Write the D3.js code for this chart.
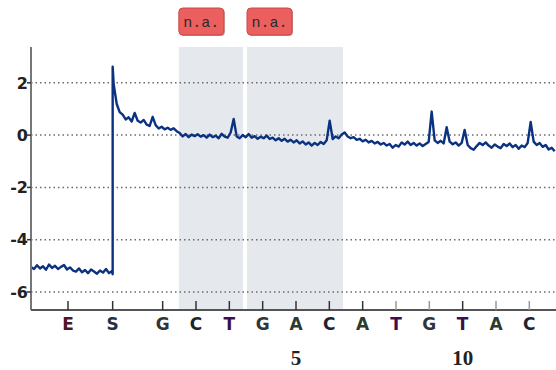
<!DOCTYPE html>
<html>
<head>
<meta charset="utf-8">
<script src="https://cdn.jsdelivr.net/npm/d3@7/dist/d3.min.js"></script>
<style>
  html, body { margin: 0; padding: 0; background: #fff; }
  svg { display: block; }
</style>
</head>
<body>
<svg id="chart" width="556" height="370"></svg>
<script>
// ---------------- data ----------------
const yTickValues = [2, 0, -2, -4, -6];
const yTickLabels = ["2", "0", "-2", "-4", "-6"];

const baseTickPos = [-1.84, -0.5, 1, 2, 3, 4, 5, 6, 7, 8, 9, 10, 11, 12];
const baseTickLabels = ["E", "S", "G", "C", "T", "G", "A", "C", "A", "T", "G", "T", "A", "C"];
const baseTickDark = [1, 1, 1, 1, 1, 1, 1, 1, 1, 0, 0, 1, 0, 0];

const positionNumbers = [5, 10];

const regionStart = [1.5, 3.5];
const regionEnd = [3.5, 6.5];
const regionLabels = ["n.a.", "n.a."];

// trace before the jump (regularly sampled)
const preStart = -2.95;
const preStep = 0.09;
const preValues = [
  -5.05, -5.12, -4.98, -5.10, -5.02, -5.15, -4.95, -5.08, -5.00, -5.12,
  -5.04, -4.97, -5.14, -5.06, -5.18, -5.22, -5.10, -5.25, -5.16, -5.28,
  -5.14, -5.22, -5.30, -5.18, -5.26, -5.12, -5.28, -5.20
];
// jump at S
const jumpPos = -0.5;
const jumpValues = [-5.32, -4.0, 2.62];
// trace after the jump (regularly sampled)
const postStart = -0.47;
const postStep = 0.09;
const postValues = [
  1.95, 1.20, 0.88, 0.78, 0.60, 0.68, 0.52, 0.85, 0.55, 0.48,
  0.58, 0.40, 0.35, 0.70, 0.38, 0.25, 0.32, 0.22, 0.28, 0.20,
  0.26, 0.15, 0.08, -0.05, 0.04, -0.08, 0.02, -0.04, 0.03, -0.06,
  0.00, -0.10, 0.02, -0.08, -0.02, -0.12, 0.05, -0.06, -0.10, 0.10,
  0.62, -0.05, -0.12, 0.00, -0.08, 0.04, -0.10, -0.04, -0.14, -0.06,
  -0.12, -0.02, -0.15, -0.10, -0.20, -0.12, -0.22, -0.14, -0.25, -0.18,
  -0.28, -0.20, -0.32, -0.24, -0.36, -0.28, -0.40, -0.30, -0.38, -0.26,
  -0.34, -0.20, 0.55, -0.15, -0.05, -0.12, 0.02, 0.10, -0.05, -0.12,
  -0.08, -0.18, -0.14, -0.24, -0.18, -0.28, -0.22, -0.32, -0.26, -0.36,
  -0.30, -0.40, -0.34, -0.48, -0.38, -0.44, -0.28, -0.36, -0.25, -0.38,
  -0.30, -0.40, -0.32, -0.42, -0.34, -0.26, 0.90, -0.20, -0.30, -0.22,
  -0.32, 0.30, -0.25, -0.35, -0.28, -0.40, -0.30, 0.20, -0.38, -0.50,
  -0.56, -0.42, -0.30, -0.38, -0.28, -0.40, -0.48, -0.36, -0.44, -0.50,
  -0.34, -0.42, -0.32, -0.46, -0.38, -0.52, -0.40, -0.46, -0.30, 0.50,
  -0.25, -0.38, -0.30, -0.45, -0.38, -0.55, -0.48, -0.62
];

// ---------------- layout ----------------
const svg = d3.select("#chart");
const W = 556, H = 370;
const plotLeft = 31, plotRight = 556, plotTop = 47, plotBottom = 310;

const x = d3.scaleLinear().domain([-2.95, 12.8]).range([plotLeft, plotRight]);
const y = d3.scaleLinear().domain([-6.69, 3.37]).range([plotBottom, plotTop]);

const baseColors = { E: "#4e1726", S: "#1f3346", G: "#343434", C: "#1d2330", T: "#3d0f4c", A: "#2b3c2e" };

svg.append("rect").attr("width", W).attr("height", H).attr("fill", "#fff");

// shaded regions
const regions = regionStart.map((s, i) => ({ s, e: regionEnd[i], label: regionLabels[i], i }));
svg.append("g").selectAll("rect").data(regions).join("rect")
  .attr("x", d => x(d.s) + (d.i > 0 ? 1 : -0.5))
  .attr("y", plotTop)
  .attr("width", d => x(d.e) - x(d.s) - 3 - (d.i > 0 ? 1 : -0.5))
  .attr("height", plotBottom - plotTop)
  .attr("fill", "#e5e9ee");

// region labels
const lab = svg.append("g").selectAll("g").data(regions).join("g")
  .attr("transform", d => `translate(${x(d.s) + (d.i > 0 ? 1 : -0.5)},8)`);
lab.append("rect").attr("x", 1).attr("y", 1).attr("width", 45).attr("height", 27).attr("rx", 4)
  .attr("fill", "#9b4a4a").attr("opacity", 0.6);
lab.append("rect").attr("width", 45).attr("height", 27).attr("rx", 4)
  .attr("fill", "#ec5f5f").attr("stroke", "#c94a4a").attr("stroke-width", 1);
lab.append("text").attr("x", 22.5).attr("y", 19).attr("text-anchor", "middle")
  .attr("font-family", "'Liberation Mono', 'DejaVu Sans Mono', monospace")
  .attr("font-size", 15).attr("fill", "#2a2a2a").text(d => d.label);

// grid lines
svg.append("g").selectAll("line").data(yTickValues).join("line")
  .attr("x1", plotLeft).attr("x2", plotRight)
  .attr("y1", d => y(d)).attr("y2", d => y(d))
  .attr("stroke", "#6a6a6a").attr("stroke-width", 1.5)
  .attr("stroke-dasharray", "1.5,3");

// trace
const points = [];
preValues.forEach((v, i) => points.push([preStart + i * preStep, v]));
jumpValues.forEach(v => points.push([jumpPos, v]));
postValues.forEach((v, i) => points.push([postStart + i * postStep, v]));

svg.append("defs").append("clipPath").attr("id", "clip")
  .append("rect").attr("x", plotLeft).attr("y", plotTop - 20).attr("width", plotRight - plotLeft).attr("height", plotBottom - plotTop + 20);

svg.append("path")
  .datum(points)
  .attr("clip-path", "url(#clip)")
  .attr("fill", "none")
  .attr("stroke", "#0b3280")
  .attr("stroke-width", 2.4)
  .attr("stroke-linejoin", "round")
  .attr("d", d3.line().x(d => x(d[0])).y(d => y(d[1])).curve(d3.curveLinear));

// y axis
svg.append("line").attr("x1", plotLeft).attr("x2", plotLeft).attr("y1", plotTop).attr("y2", plotBottom)
  .attr("stroke", "#777").attr("stroke-width", 2);
const yt = svg.append("g").selectAll("g").data(yTickValues).join("g")
  .attr("transform", d => `translate(0,${y(d)})`);
yt.append("line").attr("x1", plotLeft - 4).attr("x2", plotLeft).attr("stroke", "#333").attr("stroke-width", 1.5);
yt.append("text").attr("x", plotLeft - 3).attr("dy", "0.36em").attr("text-anchor", "end")
  .attr("font-family", "'DejaVu Sans', sans-serif").attr("font-weight", "bold")
  .attr("font-size", 16).attr("fill", "#222")
  .text((d, i) => yTickLabels[i]);

// x axis
svg.append("line").attr("x1", plotLeft).attr("x2", plotRight).attr("y1", plotBottom).attr("y2", plotBottom)
  .attr("stroke", "#555").attr("stroke-width", 2);
const xt = svg.append("g").selectAll("g").data(baseTickPos).join("g")
  .attr("transform", d => `translate(${x(d)},0)`);
xt.append("line").attr("y1", plotBottom - 9).attr("y2", plotBottom)
  .attr("stroke", (d, i) => baseTickDark[i] ? "#333" : "#999").attr("stroke-width", 1.5);
xt.append("text").attr("y", 330).attr("text-anchor", "middle")
  .attr("font-family", "'DejaVu Sans', sans-serif").attr("font-weight", "bold")
  .attr("font-size", 17)
  .attr("fill", (d, i) => baseColors[baseTickLabels[i]])
  .text((d, i) => baseTickLabels[i]);

// position numbers
svg.append("g").selectAll("text").data(positionNumbers).join("text")
  .attr("x", d => x(d)).attr("y", 365).attr("text-anchor", "middle")
  .attr("font-family", "'Liberation Serif', serif").attr("font-weight", "bold")
  .attr("font-size", 21).attr("fill", "#222")
  .text(d => d);
</script>
</body>
</html>
